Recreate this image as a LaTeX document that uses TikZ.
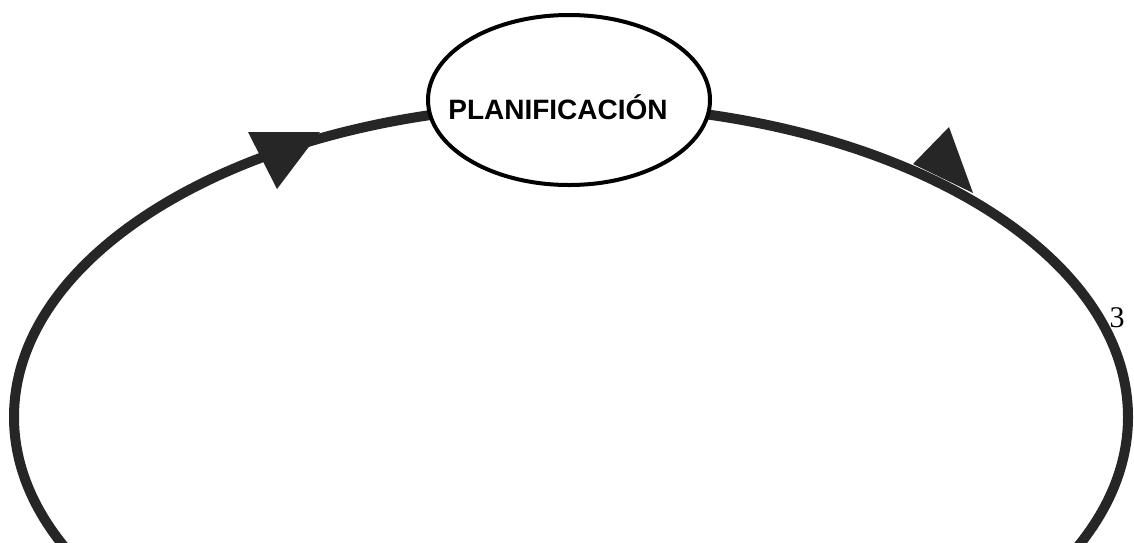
\documentclass[tikz,border=0pt]{standalone}
\usepackage{fontspec}
\setmainfont{Liberation Serif}
\setsansfont{Liberation Sans}
\usepackage{tikz}
\usetikzlibrary{shapes.geometric,calc}
\definecolor{ringgray}{HTML}{262626}
\tikzset{
  ring/.style={draw=ringgray, line width=10pt},
  tip/.style={fill=ringgray, draw=none},
  planbox/.style={ellipse, draw=black, fill=white, line width=4pt,
    minimum width=282pt, minimum height=170pt, inner sep=0pt},
  plantext/.style={font=\sffamily\bfseries\fontsize{28}{32}\selectfont}
}
\begin{document}
\begin{tikzpicture}[x=1pt,y=-1pt]
\useasboundingbox (0,0) rectangle (1134,542);
\clip (0,0) rectangle (1134,542);
\node[font=\fontsize{30}{34}\selectfont] (num) at (1117,318) {3};
\draw[ring] (571,417) ellipse [x radius=557pt, y radius=312pt];
\fill[tip] (248,132) -- (320,132) -- (277,189) -- cycle;
\fill[tip] (949,127) -- (913,164) -- (973,193) -- cycle;
\node[planbox, label={[plantext, xshift=-11pt, yshift=-7pt]center:PLANIFICACIÓN}] (plan) at (569,100) {};
\end{tikzpicture}
\end{document}
